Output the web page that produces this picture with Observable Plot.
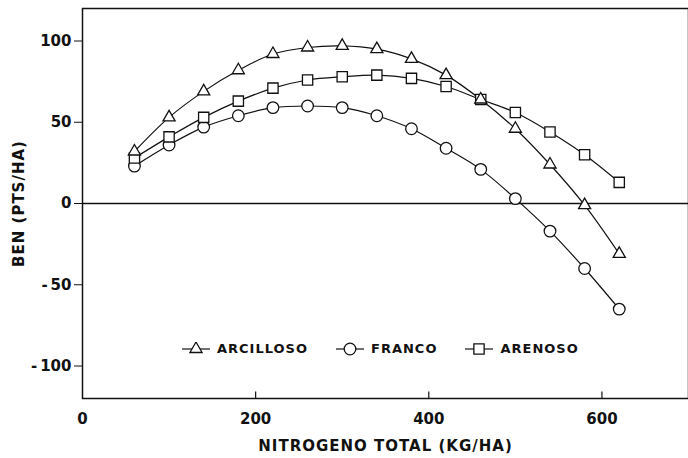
<!DOCTYPE html>
<html><head><meta charset="utf-8">
<script src="https://cdn.jsdelivr.net/npm/d3@7"></script>
<script src="https://cdn.jsdelivr.net/npm/@observablehq/plot@0.6"></script>
<style>
body{margin:0;background:#fff;}
#wrap{position:relative;width:688px;height:458px;}
#legend{position:absolute;left:182px;top:341px;display:flex;align-items:center;gap:28px;font:bold 13px "DejaVu Sans";letter-spacing:1px;color:#111;}
#legend .item{display:flex;align-items:center;gap:7px;}
g[aria-label="x-axis label"] text, g[aria-label="y-axis label"] text{letter-spacing:1px;}
</style></head><body>
<div id="wrap"><div id="legend"></div></div>
<script>
const nitrogen = [60,100,140,180,220,260,300,340,380,420,460,500,540,580,620];
const seriesNames = ["ARCILLOSO","FRANCO","ARENOSO"];
const arcilloso = [32,53,69,82,92,96,97,95,89,79,64,46,24,-1,-31];
const franco = [23,36,47,54,59,60,59,54,46,34,21,3,-17,-40,-65];
const arenoso = [28,41,53,63,71,76,78,79,77,72,64,56,44,30,13];
const xTicks = [0,200,400,600];
const yTicks = [-100,-50,0,50,100];
const symbols = ["triangle","circle","square"];
const symbolRadius = {triangle: 4.5, circle: 5.8, square: 5.8};

const seriesValues = [arcilloso, franco, arenoso];
const data = seriesNames.flatMap((s,i) => nitrogen.map((n,j) => ({s, n, v: seriesValues[i][j]})));
const radiusOf = s => symbolRadius[symbols[seriesNames.indexOf(s)]];

const chart = Plot.plot({
  width: 688, height: 458,
  marginLeft: 82, marginRight: 0, marginTop: 8, marginBottom: 60,
  style: {fontFamily: "DejaVu Sans", fontSize: "15px", fontWeight: "bold", color: "#111", background: "#fff"},
  x: {domain: [0,700]},
  y: {domain: [-120,120]},
  r: {type: "identity"},
  symbol: {domain: seriesNames, range: symbols},
  marks: [
    Plot.frame({strokeWidth: 1.5}),
    Plot.ruleY([0], {strokeWidth: 1.5}),
    Plot.axisY({ticks: yTicks, tickSize: 8, tickPadding: 3, tickFormat: d => d < 0 ? "-\u2009" + Math.abs(d) : String(d),
      label: "BEN (PTS/HA)", labelAnchor: "center", labelOffset: 69, labelArrow: "none"}),
    Plot.axisX({ticks: xTicks, tickSize: 0, tickPadding: 15,
      label: "NITROGENO TOTAL (KG/HA)", labelAnchor: "center", labelOffset: 52, labelArrow: "none"}),
    Plot.ruleX(xTicks.filter(d => d > 0), {x: d => d, y1: -120, y2: -116, strokeWidth: 1.2}),
    Plot.line(data, {x: "n", y: "v", z: "s", curve: "catmull-rom", strokeWidth: 1.2, stroke: "#111"}),
    Plot.dot(data, {x: "n", y: "v", symbol: "s", r: d => radiusOf(d.s), fill: "white", stroke: "#111", strokeWidth: 1.3})
  ]
});
document.getElementById("wrap").prepend(chart);

const legend = document.getElementById("legend");
const d3Symbols = {triangle: d3.symbolTriangle, circle: d3.symbolCircle, square: d3.symbolSquare};
seriesNames.forEach((name, i) => {
  const key = symbols[i];
  const rr = symbolRadius[key];
  const path = d3.symbol(d3Symbols[key], rr * rr * Math.PI)();
  const item = document.createElement("div");
  item.className = "item";
  item.innerHTML = `<svg width="28" height="14" viewBox="-14 -7 28 14"><line x1="-14" x2="14" y1="0" y2="0" stroke="#111" stroke-width="1.2"/><path d="${path}" fill="white" stroke="#111" stroke-width="1.3"/></svg><span>${name}</span>`;
  legend.appendChild(item);
});
</script>
</body></html>
